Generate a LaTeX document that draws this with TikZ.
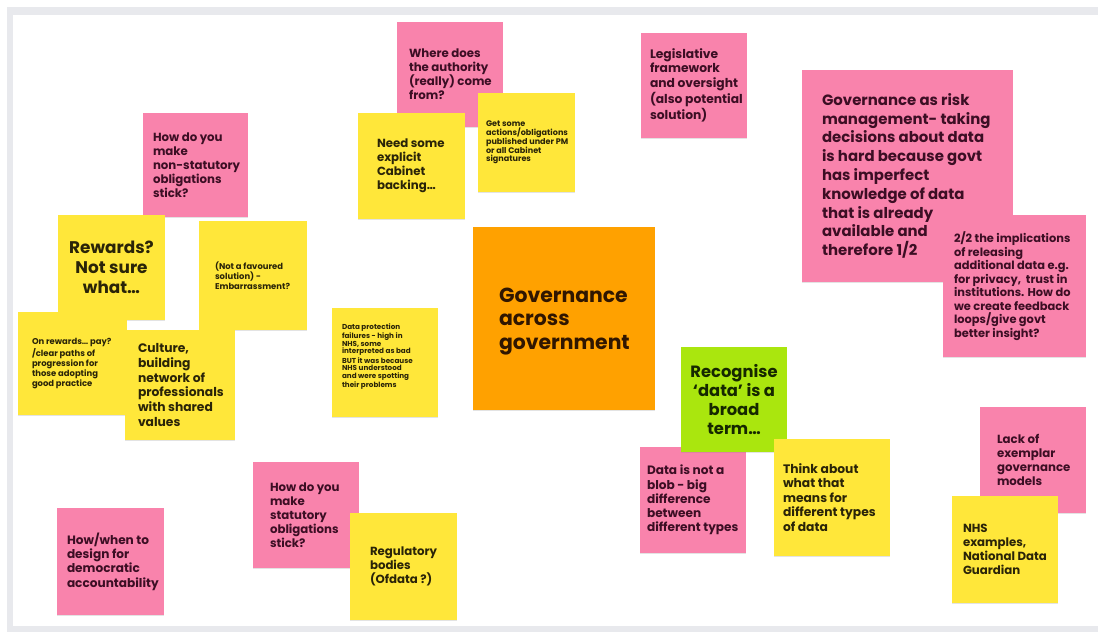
\documentclass[tikz,border=0pt]{standalone}
\usepackage{fontspec}
\setmainfont{Poppins}
\usepackage{tikz}
\usetikzlibrary{positioning,shadows}

\definecolor{notepink}{RGB}{249,131,172}
\definecolor{noteyellow}{RGB}{255,231,58}
\definecolor{noteorange}{RGB}{255,161,0}
\definecolor{notegreen}{RGB}{170,230,14}
\definecolor{boardedge}{RGB}{232,233,237}
\definecolor{pinkink}{RGB}{60,14,36}
\definecolor{yellowink}{RGB}{42,36,8}
\definecolor{orangeink}{RGB}{48,22,0}
\definecolor{greenink}{RGB}{22,40,0}

\tikzset{
  note/.style={shape=rectangle, inner sep=0pt, minimum width=2.12cm, minimum height=2.12cm,
    drop shadow={shadow xshift=0pt, shadow yshift=-0.7pt, opacity=0.22}},
  pinknote/.style={note, fill=notepink},
  yellownote/.style={note, fill=noteyellow},
  words/.style={align=left, inner sep=0pt},
  textsize/.style 2 args={font=\bfseries\fontsize{#1}{#2}\selectfont},
}

\begin{document}
\begin{tikzpicture}[x=0.02cm, y=-0.02cm]
  \useasboundingbox (0,0) rectangle (1098,632);
  % whiteboard frame
  \fill[boardedge] (7,7) rectangle (1098,632);
  \fill[white] (13,15) rectangle (1098,626);

  % top cluster
  \node (auth) [pinknote, minimum height=2.1cm] at (450,74.5) {};
  \node (auth-t) [words, pinkink, textsize={6.7}{7.9}, right=0.24cm of auth.west]
    {Where does\\the authority\\(really) come\\from?};
  \node (cabinet) [yellownote, minimum width=2.14cm] at (411.5,166) {};
  \node (cabinet-t) [words, yellowink, textsize={6.7}{7.9}, right=0.38cm of cabinet.west]
    {Need some\\explicit\\Cabinet\\backing…};
  \node (pmsign) [yellownote, minimum width=1.94cm, minimum height=1.98cm] at (526.5,142.5) {};
  \node (pmsign-t) [words, yellowink, textsize={4.6}{5}, right=0.16cm of pmsign.west]
    {Get some\\actions/obligations\\published under PM\\or all Cabinet\\signatures};
  \node (legis) [pinknote, minimum height=2.1cm] at (694,85.5) {};
  \node (legis-t) [words, pinkink, textsize={7}{8.2}, right=0.18cm of legis.west]
    {Legislative\\framework\\and oversight\\(also potential\\solution)};

  % left cluster
  \node (nonstat) [pinknote, minimum width=2.1cm, minimum height=2.08cm] at (195.5,165) {};
  \node (nonstat-t) [words, pinkink, textsize={6.7}{7.9}, right=0.2cm of nonstat.west]
    {How do you\\make\\non-statutory\\obligations\\stick?};
  \node (rewards) [yellownote, minimum width=2.14cm, minimum height=2.1cm] at (111.5,267.5) {};
  \node (rewards-t) [words, align=center, yellowink, textsize={9.6}{11.3}] at (rewards)
    {Rewards?\\Not sure\\what…};
  \node (favoured) [yellownote, minimum width=2.16cm, minimum height=2.18cm] at (253,275.5) {};
  \node (favoured-t) [words, yellowink, textsize={4.8}{5.7}, right=0.32cm of favoured.west]
    {(Not a favoured\\solution) -\\Embarrassment?};
  \node (onrewards) [yellownote, minimum width=2.18cm, minimum height=2.06cm] at (72.5,363.5) {};
  \node (onrewards-t) [words, yellowink, textsize={4.8}{5.7}, right=0.28cm of onrewards.west]
    {On rewards… pay?\\/clear paths of\\progression for\\those adopting\\good practice};
  \node (culture) [yellownote, minimum width=2.2cm, minimum height=2.2cm] at (180,385) {};
  \node (culture-t) [words, yellowink, textsize={7}{8.5}, right=0.26cm of culture.west]
    {Culture,\\building\\network of\\professionals\\with shared\\values};
  \node (dataprot) [yellownote, minimum height=2.18cm] at (385,362.5) {};
  \node (dataprot-t) [words, yellowink, textsize={4.1}{4.3}, right=0.2cm of dataprot.west, yshift=0.12cm]
    {Data protection\\failures - high in\\NHS, some\\interpreted as bad\\BUT it was because\\NHS understood\\and were spotting\\their problems};

  % centre
  \node (centre) [note, fill=noteorange, minimum width=3.64cm, minimum height=3.66cm] at (564,318.5) {};
  \node (centre-t) [words, orangeink, textsize={11.6}{13.6}, right=0.52cm of centre.west, yshift=-0.06cm]
    {Governance\\across\\government};

  % right cluster
  \node (risk) [pinknote, minimum width=4.22cm, minimum height=4.24cm] at (907.5,176) {};
  \node (risk-t) [words, pinkink, textsize={8.5}{10.7}, right=0.4cm of risk.west]
    {Governance as risk\\management- taking\\decisions about data\\is hard because govt\\has imperfect\\knowledge of data\\that is already\\available and\\therefore 1/2};
  \node (cont) [pinknote, minimum width=2.86cm, minimum height=2.84cm] at (1014.5,286) {};
  \node (cont-t) [words, pinkink, textsize={6.5}{7.7}, right=0.22cm of cont.west]
    {2/2 the implications\\of releasing\\additional data e.g.\\for privacy,~ trust in\\institutions. How do\\we create feedback\\loops/give govt\\better insight?};
  \node (blob) [pinknote] at (693,500) {};
  \node (blob-t) [words, pinkink, textsize={6.9}{8.1}, right=0.14cm of blob.west]
    {Data is not a\\blob - big\\difference\\between\\different types};
  \node (broad) [note, fill=notegreen, minimum height=2.1cm] at (734,399.5) {};
  \node (broad-t) [words, align=center, greenink, textsize={9.3}{10.9}] at (broad)
    {Recognise\\‘data’ is a\\broad\\term…};
  \node (think) [yellownote, minimum width=2.32cm, minimum height=2.34cm] at (832,497.5) {};
  \node (think-t) [words, yellowink, textsize={7}{8.2}, right=0.18cm of think.west]
    {Think about\\what that\\means for\\different types\\of data};
  \node (exemplar) [pinknote] at (1033,460) {};
  \node (exemplar-t) [words, pinkink, textsize={6.7}{7.9}, right=0.34cm of exemplar.west]
    {Lack of\\exemplar\\governance\\models};
  \node (ndg) [yellownote, minimum height=2.14cm] at (1005,549.5) {};
  \node (ndg-t) [words, yellowink, textsize={6.7}{7.9}, right=0.22cm of ndg.west]
    {NHS\\examples,\\National Data\\Guardian};

  % bottom row
  \node (democ) [pinknote, minimum width=2.14cm, minimum height=2.14cm] at (110.5,561.5) {};
  \node (democ-t) [words, pinkink, textsize={6.9}{8.1}, right=0.2cm of democ.west]
    {How/when to\\design for\\democratic\\accountability};
  \node (statut) [pinknote] at (306,515) {};
  \node (statut-t) [words, pinkink, textsize={6.7}{7.9}, right=0.34cm of statut.west]
    {How do you\\make\\statutory\\obligations\\stick?};
  \node (reg) [yellownote, minimum width=2.14cm, minimum height=2.14cm] at (403.5,566.5) {};
  \node (reg-t) [words, yellowink, textsize={6.7}{7.9}, right=0.4cm of reg.west]
    {Regulatory\\bodies\\(Ofdata ?)};
\end{tikzpicture}
\end{document}
